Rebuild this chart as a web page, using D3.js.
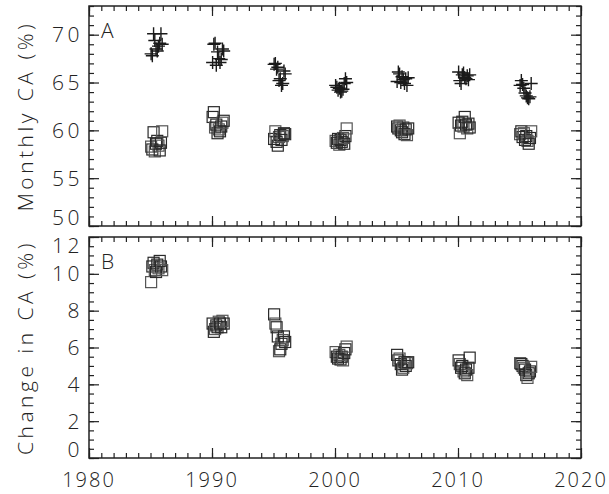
<!DOCTYPE html>
<html>
<head>
<meta charset="utf-8">
<script src="https://cdn.jsdelivr.net/npm/d3@7"></script>
<style>
  body { margin: 0; background: #fff; }
  text { font-family: "Open Sans", "Liberation Sans", sans-serif; font-weight: 300; fill: #222; letter-spacing: 3.5px; }
</style>
</head>
<body>
<div id="chart"></div>
<script>
// sampling years, each cluster holds ten monthly points
const clusterYears = [1985, 1990, 1995, 2000, 2005, 2010, 2015];
const monthOffsets = [0.05, 0.15, 0.25, 0.35, 0.45, 0.55, 0.65, 0.75, 0.85, 0.95];

// panel A, crosses (upper series)
const crossA = [
  [68.0, 67.8, 70.1, 69.4, 68.5, 68.3, 68.8, 69.1, 70.1, 69.0],
  [67.1, 69.0, 69.1, 66.8, 68.2, 67.5, 67.1, 67.4, 68.5, 68.3],
  [66.9, 67.0, 66.4, 66.6, 65.2, 65.4, 64.7, 64.9, 66.2, 65.9],
  [64.7, 64.5, 64.2, 64.4, 64.0, 64.1, 64.3, 64.9, 65.4, 65.0],
  [65.1, 66.1, 65.9, 65.0, 65.6, 65.3, 64.9, 65.4, 64.7, 65.5],
  [66.1, 65.2, 64.9, 65.8, 66.0, 65.5, 65.4, 65.7, 65.3, 65.8],
  [64.7, 65.2, 64.8, 64.4, 63.9, 63.6, 63.4, 63.3, 63.5, 64.9]
];

// panel A, squares (lower series)
const squareA = [
  [58.3, 58.0, 59.8, 57.8, 58.6, 58.9, 58.4, 57.9, 58.7, 59.9],
  [61.4, 61.9, 60.3, 60.6, 59.7, 60.1, 59.9, 60.4, 60.8, 61.0],
  [59.1, 59.9, 58.8, 58.4, 59.3, 59.5, 59.0, 59.4, 59.7, 59.6],
  [58.9, 58.7, 59.1, 58.5, 59.0, 58.8, 59.2, 58.6, 59.4, 60.2],
  [60.4, 60.2, 60.5, 60.0, 59.8, 60.3, 59.6, 60.1, 59.5, 60.2],
  [60.8, 59.7, 60.5, 60.9, 60.4, 61.4, 60.6, 60.2, 60.7, 60.3],
  [59.6, 59.9, 59.3, 59.7, 59.0, 59.4, 58.9, 58.6, 59.2, 59.9]
];

// panel B, change in CA
const squareB = [
  [9.55, 10.4, 10.6, 10.2, 10.1, 10.5, 10.3, 10.7, 10.4, 10.2],
  [7.3, 6.85, 7.0, 7.2, 7.1, 7.4, 7.3, 7.1, 7.45, 7.3],
  [7.8, 7.3, 7.1, 6.6, 5.8, 5.9, 6.2, 6.4, 6.6, 6.3],
  [5.75, 5.5, 5.4, 5.6, 5.35, 5.5, 5.3, 5.7, 5.9, 6.05],
  [5.6, 5.3, 5.4, 5.1, 4.8, 4.9, 5.2, 5.0, 5.15, 5.2],
  [5.3, 5.1, 4.9, 5.0, 4.7, 4.6, 4.8, 4.5, 4.9, 5.45],
  [5.15, 5.1, 5.0, 4.9, 4.8, 4.5, 4.35, 4.6, 4.7, 4.95]
];

const xTicks = [1980, 1990, 2000, 2010, 2020];
const yTicksA = [50, 55, 60, 65, 70];
const yTicksB = [0, 2, 4, 6, 8, 10, 12];

const width = 609, height = 494;
const left = 89, right = 581;

const svg = d3.select("#chart").append("svg")
  .attr("width", width)
  .attr("height", height);

const x = d3.scaleLinear().domain([1980, 2020]).range([left, right]);

function toPoints(values) {
  return clusterYears.flatMap((yr, i) =>
    monthOffsets.map((o, j) => ({ x: yr + o, v: values[i][j] })));
}

function panel(top, bottom, domain, majors, minorStep, label, title) {
  const y = d3.scaleLinear().domain(domain).range([bottom, top]);
  const g = svg.append("g");

  const xMinor = d3.range(1980, 2021, 1);
  const yMinor = d3.range(domain[0], domain[1] + 0.001, minorStep);

  // inward ticks on all four sides
  const ax = [
    [d3.axisBottom(x), "translate(0," + bottom + ")", xMinor, xTicks],
    [d3.axisTop(x), "translate(0," + top + ")", xMinor, xTicks],
    [d3.axisLeft(y), "translate(" + left + ",0)", yMinor, majors],
    [d3.axisRight(y), "translate(" + right + ",0)", yMinor, majors]
  ];
  ax.forEach(([a, tr, minor, major]) => {
    g.append("g").attr("transform", tr)
      .call(a.tickValues(minor).tickSize(-5).tickFormat(""));
    g.append("g").attr("transform", tr)
      .call(a.tickValues(major).tickSize(-10).tickFormat(""));
  });
  g.selectAll(".domain").remove();
  g.selectAll(".tick line").attr("stroke", "#222").attr("stroke-width", 1.2);

  g.append("rect")
    .attr("x", left).attr("y", top)
    .attr("width", right - left).attr("height", bottom - top)
    .attr("fill", "none").attr("stroke", "#222").attr("stroke-width", 1.5);

  // y tick labels, end labels kept inside the frame
  g.selectAll(".ylab").data(majors).enter().append("text")
    .attr("x", left - 6)
    .attr("y", d => {
      if (d === domain[0]) return y(d) - 1;
      if (d === domain[1]) return y(d) + 16;
      return y(d) + 7.5;
    })
    .attr("text-anchor", "end")
    .style("font-size", "21px")
    .text(d => d);

  g.append("text")
    .attr("x", left + 12).attr("y", top + 32)
    .style("font-size", "21px")
    .text(label);

  g.append("text")
    .attr("transform", "translate(33," + ((top + bottom) / 2) + ") rotate(-90)")
    .attr("text-anchor", "middle")
    .style("font-size", "21px")
    .text(title);

  return y;
}

const yA = panel(6, 226, [50, 73], yTicksA, 1, "A", "Monthly CA (%)");
const yB = panel(237, 458, [0, 12], yTicksB, 0.5, "B", "Change in CA (%)");

// x tick labels
svg.selectAll(".xlab").data(xTicks).enter().append("text")
  .attr("x", d => x(d))
  .attr("y", 487)
  .attr("text-anchor", "middle")
  .style("font-size", "20px")
  .style("letter-spacing", "2px")
  .text(d => d);

function squares(data, y) {
  svg.append("g").selectAll("rect").data(toPoints(data)).enter().append("rect")
    .attr("x", d => x(d.x) - 5.5)
    .attr("y", d => y(d.v) - 5.5)
    .attr("width", 11).attr("height", 11)
    .attr("fill", "none")
    .attr("stroke", (d, i) => i % 3 === 0 ? "#555" : "#2a2a2a")
    .attr("stroke-width", 1.2);
}

squares(squareA, yA);
squares(squareB, yB);

svg.append("g").selectAll("path").data(toPoints(crossA)).enter().append("path")
  .attr("transform", d => "translate(" + x(d.x) + "," + yA(d.v) + ")")
  .attr("d", "M-6.5,0H6.5M0,-6.5V6.5")
  .attr("stroke", "#1a1a1a")
  .attr("stroke-width", 1.4);
</script>
</body>
</html>
